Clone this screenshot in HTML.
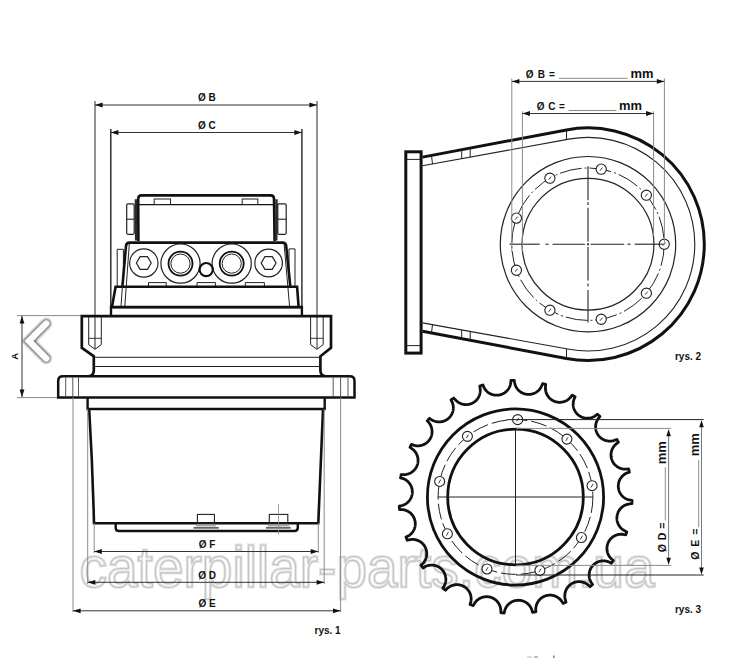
<!DOCTYPE html>
<html><head><meta charset="utf-8"><style>
html,body{margin:0;padding:0;background:#fff;}
svg{display:block;}
text{font-family:"Liberation Sans",sans-serif;}
</style></head><body>
<svg width="735" height="658" viewBox="0 0 735 658">
<rect width="735" height="658" fill="#fff"/>
<text x="79.5" y="587.4" font-size="58" font-weight="normal" fill="none" stroke="#e4e4e4" stroke-width="3" textLength="575" lengthAdjust="spacingAndGlyphs">caterpillar-parts.com.ua</text><text x="79.5" y="587.4" font-size="58" font-weight="normal" fill="none" stroke="#c4c4c4" stroke-width="1.1" textLength="575" lengthAdjust="spacingAndGlyphs">caterpillar-parts.com.ua</text>
<line x1="95.00" y1="101.00" x2="95.00" y2="349.00" stroke="#5a5a5a" stroke-width="1.3" />
<line x1="317.00" y1="101.00" x2="317.00" y2="349.00" stroke="#5a5a5a" stroke-width="1.3" />
<line x1="110.80" y1="129.00" x2="110.80" y2="307.00" stroke="#111" stroke-width="1.3" />
<line x1="301.90" y1="129.00" x2="301.90" y2="307.00" stroke="#111" stroke-width="1.3" />
<line x1="95.00" y1="105.00" x2="317.00" y2="105.00" stroke="#333" stroke-width="1" />
<path d="M95.00,105.00 L102.60,102.60 L102.60,107.40 Z" fill="#111"/>
<path d="M317.00,105.00 L309.40,107.40 L309.40,102.60 Z" fill="#111"/>
<line x1="110.80" y1="132.50" x2="301.90" y2="132.50" stroke="#333" stroke-width="1" />
<path d="M110.80,132.50 L118.40,130.10 L118.40,134.90 Z" fill="#111"/>
<path d="M301.90,132.50 L294.30,134.90 L294.30,130.10 Z" fill="#111"/>
<line x1="17.00" y1="315.60" x2="82.00" y2="315.60" stroke="#8a8a8a" stroke-width="1" />
<line x1="17.00" y1="397.60" x2="58.00" y2="397.60" stroke="#8a8a8a" stroke-width="1" />
<line x1="22.00" y1="316.00" x2="22.00" y2="397.00" stroke="#333" stroke-width="1" />
<path d="M22.00,316.00 L24.40,323.60 L19.60,323.60 Z" fill="#111"/>
<path d="M22.00,397.00 L19.60,389.40 L24.40,389.40 Z" fill="#111"/>
<path d="M138.4,241 L138.2,198.8 Q138.2,195.4 141.6,195.4 L270.7,195.4 Q274,195.4 274,198.8 L274.6,241" stroke="#111" stroke-width="2.6" fill="none" />
<line x1="135.90" y1="199.20" x2="136.10" y2="240.50" stroke="#2a2a2a" stroke-width="2.4" />
<line x1="276.50" y1="199.20" x2="276.30" y2="240.50" stroke="#2a2a2a" stroke-width="2.4" />
<line x1="139.00" y1="204.60" x2="273.50" y2="204.60" stroke="#111" stroke-width="1.3" />
<rect x="154.20" y="199.00" width="16.30" height="5.50" rx="0" stroke="#222" stroke-width="1" fill="none" />
<rect x="242.20" y="199.00" width="15.60" height="5.50" rx="0" stroke="#222" stroke-width="1" fill="none" />
<rect x="126.70" y="203.80" width="7.50" height="30.50" rx="1.2" stroke="#222" stroke-width="1.2" fill="none" />
<line x1="126.70" y1="219.20" x2="134.20" y2="219.20" stroke="#222" stroke-width="1.1" />
<rect x="277.80" y="203.80" width="8.40" height="30.50" rx="1.2" stroke="#222" stroke-width="1.2" fill="none" />
<line x1="277.80" y1="219.20" x2="286.20" y2="219.20" stroke="#222" stroke-width="1.1" />
<path d="M123.4,286 L123.4,249.3 L117.2,249.3 L117.2,286" stroke="#222" stroke-width="1" fill="none" />
<path d="M289,286 L289,248.9 L295,248.9 L295,286" stroke="#222" stroke-width="1" fill="none" />
<path d="M122.4,286.5 L126,246 Q126.3,242.6 129.5,242.6 L282.5,242.6 Q285.9,242.6 286.2,246 L290.3,286.5" fill="#fff" stroke="#111" stroke-width="2.6"/>
<line x1="129.30" y1="244.00" x2="124.80" y2="306.50" stroke="#222" stroke-width="1" />
<line x1="284.10" y1="244.00" x2="289.60" y2="306.50" stroke="#222" stroke-width="1" />
<circle cx="143.80" cy="263.00" r="14.20" stroke="#222" stroke-width="1.2" fill="none" />
<polygon points="151.20,263.00 147.50,269.41 140.10,269.41 136.40,263.00 140.10,256.59 147.50,256.59" fill="none" stroke="#222" stroke-width="1.2"/>
<circle cx="268.60" cy="263.00" r="13.80" stroke="#222" stroke-width="1.2" fill="none" />
<polygon points="276.00,263.00 272.30,269.41 264.90,269.41 261.20,263.00 264.90,256.59 272.30,256.59" fill="none" stroke="#222" stroke-width="1.2"/>
<circle cx="180.50" cy="263.60" r="19.60" stroke="#222" stroke-width="1.2" fill="none" />
<circle cx="180.50" cy="263.60" r="12.00" stroke="#111" stroke-width="1.8" fill="none" />
<circle cx="180.50" cy="263.60" r="9.60" stroke="#222" stroke-width="1.0" fill="none" />
<circle cx="231.70" cy="263.60" r="19.60" stroke="#222" stroke-width="1.2" fill="none" />
<circle cx="231.70" cy="263.60" r="12.00" stroke="#111" stroke-width="1.8" fill="none" />
<circle cx="231.70" cy="263.60" r="9.60" stroke="#222" stroke-width="1.0" fill="none" />
<circle cx="206.20" cy="269.60" r="6.60" stroke="#111" stroke-width="2.2" fill="none" />
<path d="M148.5,286 L148.5,282.6 L166.2,282.6 L166.2,286" stroke="#222" stroke-width="1" fill="none" />
<path d="M197,286 L197,282.6 L215.4,282.6 L215.4,286" stroke="#222" stroke-width="1" fill="none" />
<path d="M245.3,286 L245.3,282.6 L264.4,282.6 L264.4,286" stroke="#222" stroke-width="1" fill="none" />
<path d="M112,306.8 L115.6,286.8 L297.1,286.8 L298.6,306.8" stroke="#111" stroke-width="2.6" fill="none" />
<line x1="122.40" y1="286.50" x2="121.00" y2="306.50" stroke="#222" stroke-width="1" />
<path d="M111,315.6 L111,307 L301.9,307 L301.9,315.6" stroke="#111" stroke-width="2.4" fill="none" />
<line x1="111.00" y1="307.20" x2="301.90" y2="307.20" stroke="#111" stroke-width="2.6" />
<path d="M88.5,376.3 Q93.8,376 93.8,370.5 L93.8,356.3 L81.8,347.8 L81.8,316.2 L331,316.2 L331,347.8 L320.4,356.3 L320.4,370.5 Q320.4,376 325.7,376.3" fill="none" stroke="#111" stroke-width="2.7" stroke-linejoin="miter"/>
<line x1="94.00" y1="357.30" x2="320.40" y2="357.30" stroke="#222" stroke-width="1" />
<line x1="94.00" y1="366.50" x2="320.40" y2="366.50" stroke="#222" stroke-width="1" />
<path d="M88.7,317 L88.7,344.7 L95,349.3 L101.3,344.7 L101.3,317" stroke="#222" stroke-width="1" fill="none" />
<line x1="88.70" y1="338.30" x2="101.30" y2="338.30" stroke="#222" stroke-width="0.9" />
<path d="M310.59999999999997,317 L310.59999999999997,344.7 L316.9,349.3 L323.2,344.7 L323.2,317" stroke="#222" stroke-width="1" fill="none" />
<line x1="310.60" y1="338.30" x2="323.20" y2="338.30" stroke="#222" stroke-width="0.9" />
<path d="M58.2,397.5 L58.2,381 Q58.2,376.3 63,376.3 L349.7,376.3 Q354.5,376.3 354.5,381 L354.5,397.5 Z" fill="#fff" stroke="#111" stroke-width="2.5"/>
<line x1="65.70" y1="377.50" x2="65.70" y2="396.50" stroke="#444" stroke-width="0.9" />
<line x1="72.80" y1="377.50" x2="72.80" y2="396.50" stroke="#444" stroke-width="0.9" />
<line x1="78.50" y1="377.50" x2="78.50" y2="396.50" stroke="#444" stroke-width="0.9" />
<line x1="333.20" y1="377.50" x2="333.20" y2="396.50" stroke="#444" stroke-width="0.9" />
<line x1="340.60" y1="377.50" x2="340.60" y2="396.50" stroke="#444" stroke-width="0.9" />
<line x1="348.00" y1="377.50" x2="348.00" y2="396.50" stroke="#444" stroke-width="0.9" />
<path d="M87.6,397.5 L87.6,409 L324.7,409 L324.7,397.5" stroke="#111" stroke-width="2.4" fill="none" />
<path d="M89.2,409.5 Q92.6,466 94,523.3 L318.3,523.3 L323,409.5" stroke="#111" stroke-width="2.6" fill="none" />
<path d="M115.7,523.6 L115.7,528 Q115.7,531 119,531 L294.5,531 Q297.8,531 297.8,527.5 L297.8,523.6" stroke="#111" stroke-width="2.4" fill="none" />
<rect x="197.40" y="514.40" width="17.00" height="8.90" rx="0" stroke="#222" stroke-width="1.1" fill="none" />
<path d="M196.4,524.7 L215.4,524.7 L216.4,526.6 L195.4,526.6 Z" fill="#aaa"/>
<line x1="193.50" y1="527.90" x2="218.80" y2="527.90" stroke="#222" stroke-width="1.2" />
<rect x="269.30" y="514.40" width="18.50" height="8.90" rx="0" stroke="#222" stroke-width="1.1" fill="none" />
<path d="M268.3,524.7 L288.8,524.7 L289.8,526.6 L267.3,526.6 Z" fill="#aaa"/>
<line x1="266.00" y1="527.90" x2="290.70" y2="527.90" stroke="#222" stroke-width="1.2" />
<line x1="278.50" y1="504.00" x2="278.50" y2="534.70" stroke="#8a8a8a" stroke-width="0.8" />
<line x1="73.00" y1="397.50" x2="73.00" y2="612.00" stroke="#8a8a8a" stroke-width="1" />
<line x1="340.60" y1="397.50" x2="340.60" y2="612.00" stroke="#8a8a8a" stroke-width="1" />
<line x1="87.70" y1="409.00" x2="87.70" y2="584.00" stroke="#8a8a8a" stroke-width="1" />
<line x1="324.20" y1="409.00" x2="324.20" y2="584.00" stroke="#8a8a8a" stroke-width="1" />
<line x1="94.20" y1="523.00" x2="94.20" y2="553.00" stroke="#8a8a8a" stroke-width="1" />
<line x1="318.30" y1="523.00" x2="318.30" y2="553.00" stroke="#8a8a8a" stroke-width="1" />
<line x1="94.20" y1="551.50" x2="318.30" y2="551.50" stroke="#333" stroke-width="1" />
<path d="M94.20,551.50 L101.80,549.10 L101.80,553.90 Z" fill="#111"/>
<path d="M318.30,551.50 L310.70,553.90 L310.70,549.10 Z" fill="#111"/>
<line x1="87.70" y1="582.30" x2="324.20" y2="582.30" stroke="#333" stroke-width="1" />
<path d="M87.70,582.30 L95.30,579.90 L95.30,584.70 Z" fill="#111"/>
<path d="M324.20,582.30 L316.60,584.70 L316.60,579.90 Z" fill="#111"/>
<line x1="73.00" y1="610.80" x2="340.60" y2="610.80" stroke="#333" stroke-width="1" />
<path d="M73.00,610.80 L80.60,608.40 L80.60,613.20 Z" fill="#111"/>
<path d="M340.60,610.80 L333.00,613.20 L333.00,608.40 Z" fill="#111"/>
<path d="M422.5,157.1 L566.42,129.92 A116.3,116.3 0 1 1 566.42,358.48 L422.5,331.3" fill="none" stroke="#111" stroke-width="3.0"/>
<path d="M422.5,165.8 L568.85,139.13 A106.8,106.8 0 1 1 569.06,349.31 L422.5,322.9" fill="none" stroke="#222" stroke-width="1.1"/>
<line x1="461.70" y1="149.70" x2="461.70" y2="158.66" stroke="#222" stroke-width="1" />
<line x1="470.20" y1="148.09" x2="470.20" y2="157.11" stroke="#222" stroke-width="1" />
<line x1="431.50" y1="155.40" x2="432.50" y2="164.16" stroke="#222" stroke-width="1" />
<line x1="566.50" y1="129.90" x2="566.50" y2="139.56" stroke="#222" stroke-width="1" />
<line x1="461.70" y1="338.70" x2="461.70" y2="329.96" stroke="#222" stroke-width="1" />
<line x1="470.20" y1="340.31" x2="470.20" y2="331.49" stroke="#222" stroke-width="1" />
<line x1="431.50" y1="333.00" x2="432.50" y2="324.52" stroke="#222" stroke-width="1" />
<line x1="566.50" y1="358.50" x2="566.50" y2="348.85" stroke="#222" stroke-width="1" />
<rect x="405.80" y="151.80" width="15.30" height="201.30" rx="0" stroke="#111" stroke-width="3.0" fill="#fff" />
<line x1="406.50" y1="159.40" x2="420.50" y2="159.40" stroke="#222" stroke-width="1" />
<line x1="406.50" y1="345.60" x2="420.50" y2="345.60" stroke="#222" stroke-width="1" />
<circle cx="588.00" cy="244.20" r="87.70" stroke="#222" stroke-width="1.2" fill="none" />
<circle cx="588.00" cy="244.20" r="65.90" stroke="#222" stroke-width="1.2" fill="none" />
<circle cx="588.00" cy="244.20" r="76.20" stroke="#222" stroke-width="1.0" fill="none" stroke-dasharray="22 3 2 3"/>
<circle cx="664.20" cy="244.20" r="5.10" stroke="#222" stroke-width="1.1" fill="#fff" />
<line x1="663.00" y1="245.70" x2="665.40" y2="242.70" stroke="#222" stroke-width="0.9" />
<circle cx="646.37" cy="195.22" r="5.10" stroke="#222" stroke-width="1.1" fill="#fff" />
<line x1="645.17" y1="196.72" x2="647.57" y2="193.72" stroke="#222" stroke-width="0.9" />
<circle cx="601.23" cy="169.16" r="5.10" stroke="#222" stroke-width="1.1" fill="#fff" />
<line x1="600.03" y1="170.66" x2="602.43" y2="167.66" stroke="#222" stroke-width="0.9" />
<circle cx="549.90" cy="178.21" r="5.10" stroke="#222" stroke-width="1.1" fill="#fff" />
<line x1="548.70" y1="179.71" x2="551.10" y2="176.71" stroke="#222" stroke-width="0.9" />
<circle cx="516.40" cy="218.14" r="5.10" stroke="#222" stroke-width="1.1" fill="#fff" />
<line x1="515.20" y1="219.64" x2="517.60" y2="216.64" stroke="#222" stroke-width="0.9" />
<circle cx="516.40" cy="270.26" r="5.10" stroke="#222" stroke-width="1.1" fill="#fff" />
<line x1="515.20" y1="271.76" x2="517.60" y2="268.76" stroke="#222" stroke-width="0.9" />
<circle cx="549.90" cy="310.19" r="5.10" stroke="#222" stroke-width="1.1" fill="#fff" />
<line x1="548.70" y1="311.69" x2="551.10" y2="308.69" stroke="#222" stroke-width="0.9" />
<circle cx="601.23" cy="319.24" r="5.10" stroke="#222" stroke-width="1.1" fill="#fff" />
<line x1="600.03" y1="320.74" x2="602.43" y2="317.74" stroke="#222" stroke-width="0.9" />
<circle cx="646.37" cy="293.18" r="5.10" stroke="#222" stroke-width="1.1" fill="#fff" />
<line x1="645.17" y1="294.68" x2="647.57" y2="291.68" stroke="#222" stroke-width="0.9" />
<line x1="509.60" y1="244.20" x2="539.70" y2="244.20" stroke="#222" stroke-width="1.1" />
<line x1="545.50" y1="244.20" x2="548.50" y2="244.20" stroke="#222" stroke-width="1.1" />
<line x1="552.50" y1="244.20" x2="584.90" y2="244.20" stroke="#222" stroke-width="1.1" />
<line x1="587.00" y1="244.20" x2="589.00" y2="244.20" stroke="#222" stroke-width="1.1" />
<line x1="590.60" y1="244.20" x2="624.20" y2="244.20" stroke="#222" stroke-width="1.1" />
<line x1="627.50" y1="244.20" x2="630.50" y2="244.20" stroke="#222" stroke-width="1.1" />
<line x1="634.60" y1="244.20" x2="663.50" y2="244.20" stroke="#222" stroke-width="1.1" />
<line x1="588.00" y1="166.30" x2="588.00" y2="200.30" stroke="#222" stroke-width="1.1" />
<line x1="588.00" y1="202.00" x2="588.00" y2="205.00" stroke="#222" stroke-width="1.1" />
<line x1="588.00" y1="207.80" x2="588.00" y2="241.50" stroke="#222" stroke-width="1.1" />
<line x1="588.00" y1="243.00" x2="588.00" y2="245.50" stroke="#222" stroke-width="1.1" />
<line x1="588.00" y1="247.00" x2="588.00" y2="280.50" stroke="#222" stroke-width="1.1" />
<line x1="588.00" y1="283.50" x2="588.00" y2="286.50" stroke="#222" stroke-width="1.1" />
<line x1="588.00" y1="290.10" x2="588.00" y2="322.60" stroke="#222" stroke-width="1.1" />
<line x1="511.80" y1="78.50" x2="511.80" y2="252.00" stroke="#8a8a8a" stroke-width="1" />
<line x1="664.40" y1="78.50" x2="664.40" y2="244.00" stroke="#8a8a8a" stroke-width="1" />
<line x1="522.40" y1="111.30" x2="522.40" y2="252.00" stroke="#8a8a8a" stroke-width="1" />
<line x1="653.60" y1="111.30" x2="653.60" y2="236.00" stroke="#8a8a8a" stroke-width="1" />
<line x1="511.80" y1="81.40" x2="664.40" y2="81.40" stroke="#333" stroke-width="1" />
<path d="M511.80,81.40 L519.40,79.00 L519.40,83.80 Z" fill="#111"/>
<path d="M664.40,81.40 L656.80,83.80 L656.80,79.00 Z" fill="#111"/>
<line x1="522.40" y1="113.50" x2="653.60" y2="113.50" stroke="#333" stroke-width="1" />
<path d="M522.40,113.50 L530.00,111.10 L530.00,115.90 Z" fill="#111"/>
<path d="M653.60,113.50 L646.00,115.90 L646.00,111.10 Z" fill="#111"/>
<line x1="559.20" y1="78.30" x2="627.70" y2="78.30" stroke="#8a8a8a" stroke-width="1" />
<line x1="568.60" y1="110.50" x2="616.30" y2="110.50" stroke="#8a8a8a" stroke-width="1" />
<path d="M623.40,497.00 L623.75,497.28 L624.13,497.57 L624.53,497.86 L624.98,498.15 L625.47,498.44 L626.02,498.74 L626.63,499.04 L627.35,499.34 L628.22,499.66 L629.38,499.98 L632.05,500.36 L632.04,500.66 L632.03,500.97 L632.02,501.27 L632.01,501.58 L632.00,501.88 L631.98,502.19 L631.97,502.49 L631.96,502.80 L631.94,503.10 L631.92,503.41 L631.91,503.71 L629.74,503.89 L628.38,504.10 L627.41,504.33 L626.62,504.58 L625.95,504.82 L625.36,505.07 L624.83,505.32 L624.35,505.57 L623.90,505.82 L623.49,506.07 L623.11,506.32 L622.75,506.57 L622.42,506.82 L622.10,507.08 L621.80,507.33 L621.51,507.58 L621.25,507.83 L620.99,508.09 L620.75,508.34 L620.51,508.59 L620.29,508.85 L620.08,509.10 L619.88,509.35 L619.69,509.61 L619.50,509.86 L619.33,510.12 L619.16,510.37 L619.00,510.63 L618.85,510.88 L618.70,511.14 L618.56,511.39 L618.43,511.65 L618.30,511.91 L618.18,512.16 L618.07,512.42 L617.96,512.68 L617.85,512.94 L617.76,513.20 L617.66,513.46 L617.58,513.72 L617.50,513.98 L617.42,514.24 L617.35,514.50 L617.29,514.76 L617.22,515.03 L617.17,515.29 L617.12,515.56 L617.07,515.83 L617.03,516.09 L617.00,516.36 L616.97,516.63 L616.94,516.90 L616.92,517.17 L616.91,517.45 L616.90,517.72 L616.90,518.00 L616.90,518.28 L616.91,518.55 L616.92,518.83 L616.94,519.12 L616.96,519.40 L616.99,519.69 L617.03,519.97 L617.07,520.26 L617.12,520.55 L617.17,520.85 L617.24,521.14 L617.30,521.44 L617.38,521.74 L617.47,522.05 L617.56,522.35 L617.66,522.66 L617.77,522.97 L617.89,523.29 L618.03,523.61 L618.17,523.93 L618.32,524.26 L618.49,524.60 L618.67,524.93 L618.87,525.28 L619.08,525.63 L619.31,525.98 L619.56,526.35 L619.84,526.72 L620.15,527.11 L620.48,527.50 L620.86,527.91 L621.29,528.34 L621.78,528.78 L622.35,529.26 L623.04,529.78 L623.95,530.36 L625.46,531.14 L626.76,531.87 L626.67,532.16 L626.58,532.45 L626.49,532.74 L626.39,533.03 L626.30,533.32 L626.20,533.61 L626.11,533.90 L626.01,534.19 L625.91,534.48 L625.81,534.77 L624.41,534.61 L622.69,534.33 L621.60,534.26 L620.73,534.26 L619.98,534.31 L619.32,534.38 L618.73,534.47 L618.18,534.58 L617.67,534.69 L617.20,534.82 L616.75,534.96 L616.33,535.10 L615.93,535.25 L615.55,535.41 L615.19,535.57 L614.85,535.73 L614.51,535.90 L614.19,536.08 L613.89,536.25 L613.59,536.43 L613.31,536.62 L613.03,536.80 L612.77,536.99 L612.51,537.18 L612.26,537.38 L612.02,537.57 L611.79,537.77 L611.56,537.97 L611.34,538.18 L611.13,538.38 L610.93,538.59 L610.73,538.80 L610.53,539.01 L610.35,539.23 L610.16,539.44 L609.99,539.66 L609.82,539.88 L609.65,540.11 L609.49,540.33 L609.34,540.56 L609.19,540.79 L609.04,541.02 L608.90,541.25 L608.76,541.48 L608.63,541.72 L608.51,541.96 L608.38,542.20 L608.27,542.45 L608.16,542.69 L608.05,542.94 L607.94,543.19 L607.85,543.45 L607.75,543.70 L607.66,543.96 L607.58,544.22 L607.50,544.48 L607.42,544.75 L607.35,545.02 L607.29,545.29 L607.23,545.57 L607.17,545.85 L607.12,546.13 L607.08,546.41 L607.04,546.70 L607.00,546.99 L606.98,547.29 L606.95,547.59 L606.94,547.89 L606.93,548.20 L606.93,548.52 L606.93,548.84 L606.94,549.16 L606.96,549.49 L606.99,549.82 L607.03,550.16 L607.08,550.51 L607.13,550.87 L607.20,551.23 L607.28,551.60 L607.37,551.98 L607.47,552.37 L607.60,552.78 L607.73,553.19 L607.89,553.62 L608.07,554.06 L608.28,554.53 L608.52,555.01 L608.80,555.53 L609.13,556.08 L609.52,556.67 L610.01,557.33 L610.65,558.08 L611.60,559.05 L613.29,560.50 L613.12,560.76 L612.96,561.02 L612.79,561.27 L612.62,561.53 L612.45,561.78 L612.28,562.03 L612.11,562.29 L611.94,562.54 L611.77,562.79 L611.59,563.04 L611.42,563.29 L609.08,562.04 L607.94,561.61 L607.05,561.34 L606.29,561.16 L605.61,561.04 L604.99,560.95 L604.42,560.90 L603.89,560.87 L603.39,560.86 L602.92,560.86 L602.47,560.88 L602.04,560.92 L601.62,560.96 L601.22,561.01 L600.84,561.08 L600.47,561.15 L600.11,561.23 L599.77,561.31 L599.43,561.40 L599.10,561.50 L598.79,561.60 L598.48,561.71 L598.17,561.82 L597.88,561.94 L597.59,562.07 L597.31,562.19 L597.04,562.32 L596.77,562.46 L596.51,562.60 L596.25,562.74 L596.00,562.89 L595.76,563.04 L595.52,563.20 L595.28,563.35 L595.05,563.52 L594.83,563.68 L594.61,563.85 L594.39,564.02 L594.18,564.20 L593.97,564.38 L593.77,564.56 L593.57,564.74 L593.37,564.93 L593.18,565.12 L592.99,565.32 L592.81,565.52 L592.63,565.72 L592.45,565.92 L592.28,566.13 L592.11,566.35 L591.95,566.56 L591.79,566.78 L591.63,567.00 L591.48,567.23 L591.33,567.46 L591.18,567.70 L591.04,567.94 L590.90,568.18 L590.77,568.43 L590.64,568.68 L590.51,568.93 L590.39,569.20 L590.27,569.46 L590.16,569.73 L590.05,570.01 L589.95,570.29 L589.85,570.58 L589.76,570.87 L589.67,571.17 L589.58,571.47 L589.51,571.79 L589.43,572.11 L589.37,572.43 L589.31,572.77 L589.26,573.11 L589.21,573.47 L589.18,573.83 L589.15,574.21 L589.13,574.59 L589.12,574.99 L589.13,575.41 L589.15,575.84 L589.18,576.29 L589.22,576.76 L589.29,577.25 L589.38,577.77 L589.50,578.33 L589.66,578.93 L589.86,579.58 L590.12,580.31 L590.48,581.16 L591.02,582.21 L592.61,584.46 L592.38,584.66 L592.15,584.87 L591.92,585.07 L591.69,585.27 L591.46,585.46 L591.23,585.66 L590.99,585.86 L590.76,586.06 L590.53,586.26 L590.29,586.45 L590.06,586.65 L588.50,585.24 L587.39,584.37 L586.56,583.81 L585.84,583.40 L585.20,583.07 L584.61,582.81 L584.07,582.59 L583.55,582.40 L583.07,582.25 L582.60,582.12 L582.16,582.01 L581.73,581.92 L581.31,581.85 L580.91,581.79 L580.52,581.74 L580.14,581.70 L579.77,581.68 L579.41,581.66 L579.06,581.66 L578.72,581.66 L578.38,581.67 L578.05,581.69 L577.73,581.72 L577.41,581.75 L577.10,581.79 L576.80,581.83 L576.49,581.88 L576.20,581.94 L575.91,582.00 L575.62,582.07 L575.34,582.14 L575.06,582.22 L574.79,582.30 L574.52,582.39 L574.25,582.48 L573.99,582.58 L573.73,582.68 L573.47,582.78 L573.22,582.89 L572.97,583.01 L572.72,583.13 L572.48,583.25 L572.24,583.38 L572.00,583.51 L571.77,583.64 L571.54,583.78 L571.31,583.93 L571.08,584.08 L570.86,584.23 L570.64,584.39 L570.42,584.55 L570.20,584.72 L569.99,584.89 L569.78,585.06 L569.58,585.24 L569.37,585.43 L569.17,585.62 L568.97,585.81 L568.77,586.01 L568.58,586.22 L568.39,586.43 L568.20,586.65 L568.02,586.87 L567.83,587.10 L567.65,587.33 L567.48,587.57 L567.30,587.82 L567.13,588.07 L566.96,588.34 L566.80,588.60 L566.64,588.88 L566.48,589.17 L566.33,589.46 L566.18,589.76 L566.04,590.08 L565.90,590.40 L565.76,590.74 L565.63,591.09 L565.51,591.45 L565.39,591.83 L565.28,592.22 L565.18,592.63 L565.08,593.07 L565.00,593.52 L564.93,594.01 L564.87,594.52 L564.83,595.07 L564.80,595.67 L564.81,596.33 L564.85,597.07 L564.94,597.93 L565.13,598.98 L565.56,600.55 L565.97,602.11 L565.70,602.24 L565.42,602.37 L565.15,602.50 L564.87,602.63 L564.59,602.76 L564.32,602.89 L564.04,603.02 L563.76,603.14 L563.48,603.27 L563.20,603.39 L562.43,602.41 L561.42,600.86 L560.72,600.01 L560.12,599.36 L559.57,598.85 L559.07,598.41 L558.59,598.03 L558.14,597.70 L557.71,597.41 L557.29,597.15 L556.89,596.92 L556.49,596.71 L556.11,596.52 L555.74,596.35 L555.37,596.19 L555.02,596.05 L554.67,595.92 L554.32,595.81 L553.98,595.70 L553.65,595.61 L553.32,595.52 L553.00,595.45 L552.68,595.38 L552.36,595.33 L552.05,595.28 L551.74,595.24 L551.44,595.20 L551.14,595.17 L550.84,595.15 L550.54,595.14 L550.25,595.13 L549.96,595.13 L549.67,595.13 L549.39,595.14 L549.11,595.15 L548.83,595.17 L548.55,595.20 L548.27,595.23 L548.00,595.27 L547.73,595.31 L547.46,595.35 L547.19,595.40 L546.92,595.46 L546.66,595.52 L546.40,595.59 L546.13,595.66 L545.87,595.73 L545.62,595.81 L545.36,595.90 L545.10,595.99 L544.85,596.09 L544.60,596.19 L544.35,596.29 L544.10,596.40 L543.85,596.52 L543.60,596.64 L543.36,596.77 L543.11,596.90 L542.87,597.04 L542.62,597.18 L542.38,597.33 L542.14,597.49 L541.90,597.65 L541.67,597.82 L541.43,597.99 L541.19,598.17 L540.96,598.36 L540.73,598.56 L540.49,598.76 L540.26,598.97 L540.03,599.19 L539.81,599.42 L539.58,599.66 L539.35,599.91 L539.13,600.17 L538.91,600.44 L538.68,600.72 L538.47,601.02 L538.25,601.33 L538.03,601.65 L537.82,602.00 L537.61,602.36 L537.40,602.74 L537.19,603.15 L536.99,603.59 L536.79,604.05 L536.60,604.56 L536.42,605.11 L536.24,605.72 L536.07,606.41 L535.93,607.21 L535.81,608.18 L535.74,609.51 L535.85,611.81 L535.55,611.86 L535.25,611.92 L534.95,611.97 L534.64,612.02 L534.34,612.07 L534.04,612.12 L533.74,612.16 L533.44,612.21 L533.14,612.26 L532.84,612.30 L532.53,612.35 L531.86,609.85 L531.40,608.70 L530.98,607.86 L530.59,607.17 L530.22,606.59 L529.86,606.08 L529.51,605.62 L529.17,605.21 L528.84,604.83 L528.51,604.49 L528.18,604.17 L527.87,603.88 L527.55,603.61 L527.24,603.35 L526.93,603.12 L526.63,602.89 L526.33,602.68 L526.03,602.49 L525.73,602.31 L525.44,602.13 L525.15,601.97 L524.85,601.82 L524.57,601.67 L524.28,601.54 L523.99,601.41 L523.71,601.29 L523.43,601.18 L523.14,601.08 L522.86,600.98 L522.58,600.89 L522.30,600.81 L522.03,600.74 L521.75,600.67 L521.47,600.60 L521.20,600.54 L520.92,600.49 L520.65,600.44 L520.38,600.40 L520.10,600.37 L519.83,600.34 L519.56,600.31 L519.29,600.29 L519.02,600.28 L518.75,600.27 L518.47,600.26 L518.20,600.27 L517.93,600.27 L517.66,600.28 L517.39,600.30 L517.12,600.32 L516.85,600.35 L516.58,600.38 L516.31,600.42 L516.04,600.46 L515.77,600.51 L515.50,600.56 L515.23,600.62 L514.96,600.69 L514.69,600.76 L514.41,600.83 L514.14,600.92 L513.87,601.01 L513.59,601.10 L513.32,601.20 L513.04,601.31 L512.77,601.43 L512.49,601.55 L512.21,601.68 L511.93,601.82 L511.65,601.97 L511.37,602.13 L511.09,602.29 L510.80,602.47 L510.52,602.65 L510.23,602.85 L509.94,603.06 L509.65,603.28 L509.36,603.51 L509.06,603.76 L508.77,604.03 L508.47,604.31 L508.16,604.62 L507.86,604.95 L507.55,605.30 L507.23,605.69 L506.91,606.11 L506.59,606.57 L506.26,607.09 L505.91,607.68 L505.56,608.37 L505.19,609.20 L504.79,610.29 L504.22,613.05 L503.92,613.02 L503.62,612.99 L503.31,612.96 L503.01,612.93 L502.70,612.90 L502.40,612.86 L502.10,612.83 L501.80,612.79 L501.49,612.76 L501.19,612.72 L500.89,612.68 L500.84,610.66 L500.72,609.23 L500.56,608.22 L500.38,607.41 L500.18,606.72 L499.97,606.10 L499.76,605.55 L499.54,605.05 L499.33,604.59 L499.10,604.16 L498.88,603.76 L498.65,603.38 L498.42,603.03 L498.19,602.69 L497.96,602.37 L497.73,602.07 L497.49,601.78 L497.26,601.51 L497.02,601.25 L496.79,601.00 L496.55,600.76 L496.31,600.53 L496.07,600.31 L495.83,600.10 L495.59,599.90 L495.35,599.71 L495.11,599.52 L494.86,599.34 L494.62,599.17 L494.38,599.01 L494.13,598.85 L493.88,598.70 L493.64,598.56 L493.39,598.42 L493.14,598.29 L492.89,598.16 L492.64,598.04 L492.39,597.92 L492.13,597.81 L491.88,597.71 L491.62,597.61 L491.37,597.52 L491.11,597.43 L490.85,597.34 L490.59,597.26 L490.33,597.19 L490.07,597.12 L489.81,597.06 L489.55,597.00 L489.28,596.95 L489.01,596.90 L488.74,596.85 L488.47,596.81 L488.20,596.78 L487.93,596.75 L487.66,596.73 L487.38,596.71 L487.10,596.70 L486.82,596.69 L486.54,596.69 L486.25,596.69 L485.97,596.70 L485.68,596.72 L485.39,596.74 L485.09,596.77 L484.80,596.80 L484.50,596.85 L484.19,596.89 L483.89,596.95 L483.58,597.01 L483.27,597.09 L482.95,597.17 L482.63,597.25 L482.31,597.35 L481.98,597.46 L481.65,597.58 L481.31,597.71 L480.97,597.85 L480.62,598.01 L480.27,598.18 L479.90,598.37 L479.53,598.57 L479.15,598.80 L478.76,599.05 L478.36,599.32 L477.94,599.63 L477.51,599.97 L477.06,600.37 L476.58,600.82 L476.07,601.35 L475.51,601.99 L474.87,602.83 L474.04,604.17 L473.14,605.64 L472.86,605.52 L472.58,605.41 L472.29,605.30 L472.01,605.19 L471.73,605.07 L471.44,604.96 L471.16,604.84 L470.88,604.72 L470.60,604.61 L470.32,604.49 L470.03,604.37 L470.93,601.50 L471.08,600.39 L471.14,599.51 L471.15,598.76 L471.13,598.09 L471.08,597.48 L471.01,596.92 L470.93,596.41 L470.84,595.92 L470.73,595.47 L470.62,595.03 L470.49,594.62 L470.37,594.23 L470.23,593.86 L470.09,593.50 L469.94,593.16 L469.79,592.83 L469.64,592.51 L469.48,592.20 L469.32,591.90 L469.15,591.61 L468.98,591.33 L468.81,591.06 L468.63,590.80 L468.45,590.55 L468.27,590.30 L468.08,590.06 L467.89,589.83 L467.70,589.60 L467.51,589.38 L467.31,589.17 L467.12,588.96 L466.92,588.76 L466.71,588.56 L466.51,588.37 L466.30,588.19 L466.09,588.01 L465.87,587.83 L465.66,587.66 L465.44,587.49 L465.22,587.33 L465.00,587.18 L464.77,587.02 L464.55,586.88 L464.32,586.73 L464.08,586.60 L463.85,586.46 L463.61,586.33 L463.37,586.21 L463.13,586.09 L462.88,585.97 L462.63,585.86 L462.38,585.75 L462.13,585.65 L461.87,585.55 L461.61,585.46 L461.35,585.37 L461.08,585.29 L460.81,585.21 L460.54,585.13 L460.26,585.06 L459.98,585.00 L459.69,584.94 L459.40,584.88 L459.11,584.84 L458.81,584.79 L458.51,584.76 L458.20,584.73 L457.89,584.70 L457.57,584.68 L457.25,584.67 L456.92,584.67 L456.59,584.67 L456.24,584.69 L455.89,584.71 L455.54,584.74 L455.17,584.78 L454.80,584.83 L454.41,584.90 L454.01,584.97 L453.61,585.07 L453.18,585.17 L452.75,585.30 L452.29,585.45 L451.82,585.62 L451.32,585.83 L450.79,586.07 L450.22,586.35 L449.61,586.70 L448.93,587.13 L448.14,587.70 L447.14,588.54 L445.49,590.24 L445.25,590.06 L445.00,589.88 L444.76,589.69 L444.52,589.50 L444.28,589.32 L444.04,589.13 L443.79,588.94 L443.55,588.76 L443.31,588.57 L443.07,588.38 L442.84,588.19 L444.17,586.04 L444.70,584.90 L445.04,584.02 L445.27,583.26 L445.45,582.58 L445.58,581.97 L445.68,581.40 L445.74,580.87 L445.79,580.37 L445.82,579.90 L445.83,579.44 L445.83,579.01 L445.81,578.59 L445.79,578.19 L445.75,577.80 L445.71,577.43 L445.66,577.06 L445.59,576.71 L445.53,576.37 L445.45,576.04 L445.37,575.71 L445.28,575.39 L445.19,575.08 L445.10,574.78 L444.99,574.49 L444.89,574.20 L444.77,573.92 L444.66,573.64 L444.54,573.37 L444.41,573.10 L444.28,572.84 L444.15,572.59 L444.01,572.34 L443.87,572.09 L443.72,571.85 L443.57,571.61 L443.42,571.38 L443.26,571.15 L443.10,570.93 L442.94,570.71 L442.77,570.49 L442.60,570.28 L442.43,570.07 L442.25,569.87 L442.07,569.67 L441.88,569.47 L441.69,569.28 L441.50,569.09 L441.31,568.90 L441.11,568.72 L440.90,568.54 L440.69,568.36 L440.48,568.19 L440.27,568.02 L440.05,567.86 L439.82,567.69 L439.59,567.54 L439.36,567.38 L439.12,567.23 L438.88,567.08 L438.64,566.94 L438.38,566.80 L438.13,566.67 L437.87,566.54 L437.60,566.41 L437.33,566.28 L437.05,566.17 L436.76,566.05 L436.47,565.94 L436.17,565.84 L435.87,565.74 L435.55,565.65 L435.23,565.56 L434.90,565.47 L434.56,565.40 L434.21,565.33 L433.85,565.27 L433.48,565.21 L433.10,565.17 L432.70,565.13 L432.29,565.11 L431.86,565.09 L431.41,565.09 L430.94,565.11 L430.45,565.14 L429.92,565.19 L429.36,565.27 L428.76,565.38 L428.10,565.53 L427.36,565.74 L426.51,566.03 L425.44,566.48 L423.00,567.98 L422.81,567.74 L422.62,567.50 L422.44,567.25 L422.26,567.01 L422.07,566.76 L421.89,566.52 L421.71,566.27 L421.53,566.03 L421.35,565.78 L421.17,565.54 L420.99,565.29 L422.36,563.93 L423.36,562.84 L423.99,562.03 L424.47,561.34 L424.84,560.72 L425.15,560.14 L425.41,559.61 L425.63,559.11 L425.82,558.63 L425.99,558.18 L426.13,557.74 L426.25,557.31 L426.35,556.90 L426.44,556.51 L426.52,556.12 L426.58,555.74 L426.63,555.38 L426.67,555.02 L426.70,554.67 L426.72,554.32 L426.73,553.99 L426.74,553.66 L426.74,553.33 L426.73,553.01 L426.71,552.70 L426.69,552.39 L426.66,552.09 L426.62,551.79 L426.58,551.49 L426.53,551.20 L426.48,550.91 L426.42,550.63 L426.36,550.35 L426.29,550.07 L426.22,549.80 L426.14,549.53 L426.06,549.27 L425.97,549.00 L425.88,548.74 L425.78,548.49 L425.68,548.23 L425.57,547.98 L425.46,547.73 L425.35,547.49 L425.23,547.24 L425.11,547.00 L424.98,546.77 L424.84,546.53 L424.71,546.30 L424.57,546.07 L424.42,545.84 L424.27,545.61 L424.11,545.39 L423.95,545.17 L423.79,544.95 L423.62,544.73 L423.44,544.52 L423.26,544.30 L423.07,544.09 L422.88,543.89 L422.69,543.68 L422.48,543.48 L422.27,543.28 L422.06,543.08 L421.84,542.88 L421.61,542.69 L421.38,542.50 L421.14,542.31 L420.89,542.13 L420.63,541.95 L420.37,541.77 L420.09,541.59 L419.81,541.42 L419.52,541.25 L419.22,541.08 L418.90,540.92 L418.58,540.76 L418.24,540.61 L417.89,540.46 L417.52,540.32 L417.14,540.18 L416.73,540.05 L416.31,539.92 L415.86,539.81 L415.39,539.70 L414.88,539.61 L414.34,539.52 L413.75,539.46 L413.09,539.42 L412.36,539.41 L411.51,539.44 L410.48,539.54 L408.97,539.82 L407.20,540.21 L407.09,539.92 L406.98,539.64 L406.86,539.36 L406.75,539.07 L406.64,538.79 L406.54,538.50 L406.43,538.22 L406.32,537.93 L406.21,537.64 L406.11,537.36 L406.00,537.07 L408.66,535.78 L409.58,535.13 L410.28,534.57 L410.84,534.06 L411.32,533.59 L411.73,533.14 L412.09,532.71 L412.42,532.29 L412.71,531.89 L412.97,531.51 L413.21,531.13 L413.43,530.76 L413.62,530.40 L413.81,530.04 L413.97,529.69 L414.12,529.35 L414.26,529.02 L414.39,528.69 L414.51,528.36 L414.62,528.04 L414.71,527.72 L414.80,527.40 L414.88,527.09 L414.95,526.78 L415.01,526.48 L415.07,526.18 L415.12,525.88 L415.16,525.58 L415.20,525.29 L415.23,525.00 L415.25,524.71 L415.27,524.42 L415.28,524.14 L415.28,523.85 L415.28,523.57 L415.28,523.29 L415.26,523.02 L415.25,522.74 L415.23,522.47 L415.20,522.19 L415.17,521.92 L415.13,521.65 L415.09,521.39 L415.04,521.12 L414.99,520.85 L414.93,520.59 L414.87,520.33 L414.80,520.06 L414.73,519.80 L414.65,519.54 L414.57,519.28 L414.48,519.03 L414.39,518.77 L414.29,518.51 L414.18,518.26 L414.07,518.00 L413.96,517.75 L413.84,517.50 L413.71,517.25 L413.58,517.00 L413.44,516.75 L413.30,516.50 L413.15,516.25 L412.99,516.00 L412.83,515.75 L412.65,515.50 L412.47,515.26 L412.29,515.01 L412.09,514.77 L411.89,514.52 L411.68,514.28 L411.46,514.04 L411.22,513.80 L410.98,513.55 L410.73,513.31 L410.46,513.07 L410.18,512.83 L409.89,512.60 L409.58,512.36 L409.25,512.12 L408.91,511.89 L408.54,511.65 L408.15,511.42 L407.73,511.19 L407.28,510.96 L406.80,510.73 L406.26,510.51 L405.67,510.29 L405.00,510.08 L404.23,509.87 L403.28,509.69 L402.01,509.53 L399.57,509.49 L399.54,509.19 L399.51,508.88 L399.48,508.58 L399.45,508.28 L399.42,507.97 L399.39,507.67 L399.36,507.37 L399.33,507.06 L399.31,506.76 L399.28,506.45 L399.26,506.15 L401.67,505.66 L402.89,505.27 L403.77,504.91 L404.50,504.57 L405.11,504.24 L405.65,503.91 L406.14,503.59 L406.57,503.28 L406.97,502.97 L407.34,502.67 L407.68,502.37 L408.00,502.07 L408.29,501.77 L408.57,501.48 L408.83,501.19 L409.07,500.90 L409.30,500.62 L409.52,500.33 L409.72,500.05 L409.92,499.76 L410.10,499.48 L410.27,499.20 L410.44,498.93 L410.59,498.65 L410.74,498.37 L410.88,498.10 L411.01,497.82 L411.13,497.55 L411.25,497.27 L411.35,497.00 L411.46,496.73 L411.55,496.46 L411.64,496.18 L411.73,495.91 L411.80,495.64 L411.87,495.37 L411.94,495.10 L412.00,494.83 L412.06,494.56 L412.10,494.29 L412.15,494.02 L412.19,493.75 L412.22,493.48 L412.25,493.21 L412.27,492.94 L412.29,492.67 L412.30,492.40 L412.31,492.13 L412.31,491.86 L412.31,491.59 L412.30,491.32 L412.29,491.05 L412.27,490.78 L412.25,490.50 L412.22,490.23 L412.18,489.96 L412.14,489.68 L412.10,489.41 L412.04,489.13 L411.99,488.85 L411.92,488.58 L411.85,488.30 L411.78,488.02 L411.70,487.74 L411.61,487.45 L411.51,487.17 L411.41,486.89 L411.30,486.60 L411.18,486.31 L411.05,486.02 L410.91,485.73 L410.77,485.44 L410.61,485.14 L410.45,484.85 L410.27,484.55 L410.09,484.24 L409.89,483.94 L409.67,483.63 L409.45,483.32 L409.20,483.01 L408.94,482.69 L408.66,482.36 L408.35,482.04 L408.02,481.70 L407.66,481.36 L407.27,481.02 L406.83,480.66 L406.34,480.30 L405.78,479.92 L405.13,479.52 L404.34,479.10 L403.31,478.63 L400.48,477.86 L400.53,477.55 L400.58,477.25 L400.64,476.95 L400.69,476.65 L400.74,476.35 L400.80,476.05 L400.85,475.75 L400.91,475.45 L400.97,475.15 L401.02,474.85 L401.08,474.55 L402.93,474.61 L404.44,474.61 L405.48,474.52 L406.31,474.39 L407.03,474.24 L407.66,474.08 L408.23,473.90 L408.75,473.72 L409.23,473.54 L409.67,473.35 L410.09,473.15 L410.48,472.95 L410.86,472.74 L411.21,472.54 L411.54,472.33 L411.86,472.12 L412.16,471.90 L412.45,471.69 L412.73,471.47 L413.00,471.25 L413.25,471.03 L413.50,470.81 L413.73,470.59 L413.96,470.36 L414.18,470.14 L414.39,469.91 L414.59,469.68 L414.79,469.45 L414.97,469.22 L415.16,468.98 L415.33,468.75 L415.50,468.51 L415.66,468.28 L415.81,468.04 L415.96,467.80 L416.11,467.56 L416.25,467.32 L416.38,467.07 L416.51,466.83 L416.63,466.58 L416.74,466.34 L416.86,466.09 L416.96,465.84 L417.06,465.59 L417.16,465.33 L417.25,465.08 L417.34,464.82 L417.42,464.56 L417.50,464.30 L417.57,464.04 L417.64,463.78 L417.70,463.52 L417.76,463.25 L417.81,462.98 L417.86,462.71 L417.90,462.44 L417.94,462.16 L417.97,461.89 L418.00,461.61 L418.02,461.33 L418.03,461.04 L418.04,460.76 L418.05,460.47 L418.05,460.18 L418.04,459.88 L418.02,459.58 L418.00,459.28 L417.98,458.98 L417.94,458.67 L417.90,458.36 L417.85,458.04 L417.79,457.72 L417.73,457.40 L417.65,457.07 L417.57,456.74 L417.47,456.40 L417.37,456.05 L417.25,455.70 L417.12,455.34 L416.97,454.97 L416.81,454.60 L416.64,454.22 L416.44,453.82 L416.22,453.42 L415.97,453.00 L415.70,452.57 L415.39,452.11 L415.03,451.64 L414.62,451.13 L414.13,450.59 L413.54,450.00 L412.77,449.31 L411.57,448.43 L410.00,447.35 L410.13,447.08 L410.26,446.80 L410.39,446.53 L410.52,446.25 L410.66,445.98 L410.79,445.70 L410.92,445.43 L411.06,445.16 L411.20,444.88 L411.33,444.61 L411.47,444.34 L414.17,445.37 L415.29,445.61 L416.18,445.74 L416.95,445.81 L417.62,445.83 L418.24,445.83 L418.80,445.80 L419.32,445.75 L419.82,445.69 L420.28,445.62 L420.72,445.54 L421.14,445.45 L421.54,445.34 L421.92,445.24 L422.29,445.12 L422.65,445.00 L422.99,444.87 L423.32,444.74 L423.64,444.60 L423.95,444.46 L424.24,444.31 L424.54,444.16 L424.82,444.01 L425.09,443.85 L425.36,443.69 L425.62,443.53 L425.87,443.36 L426.11,443.19 L426.35,443.01 L426.59,442.83 L426.81,442.65 L427.03,442.47 L427.25,442.28 L427.46,442.09 L427.67,441.90 L427.87,441.71 L428.06,441.51 L428.25,441.31 L428.44,441.11 L428.62,440.90 L428.79,440.69 L428.97,440.48 L429.13,440.27 L429.30,440.05 L429.45,439.83 L429.61,439.61 L429.76,439.38 L429.90,439.16 L430.05,438.93 L430.18,438.69 L430.32,438.45 L430.44,438.21 L430.57,437.97 L430.69,437.72 L430.80,437.48 L430.92,437.22 L431.02,436.97 L431.13,436.71 L431.22,436.44 L431.32,436.17 L431.41,435.90 L431.49,435.63 L431.57,435.35 L431.64,435.06 L431.71,434.77 L431.78,434.48 L431.83,434.18 L431.89,433.88 L431.93,433.57 L431.97,433.25 L432.00,432.93 L432.03,432.60 L432.05,432.27 L432.06,431.93 L432.06,431.58 L432.06,431.22 L432.04,430.85 L432.02,430.48 L431.98,430.09 L431.93,429.69 L431.87,429.28 L431.79,428.85 L431.70,428.41 L431.58,427.94 L431.44,427.46 L431.28,426.95 L431.08,426.41 L430.83,425.83 L430.53,425.20 L430.16,424.50 L429.66,423.69 L428.92,422.66 L427.23,420.81 L427.43,420.58 L427.63,420.35 L427.84,420.12 L428.04,419.89 L428.24,419.66 L428.44,419.43 L428.65,419.21 L428.85,418.98 L429.05,418.75 L429.26,418.53 L429.46,418.30 L431.42,419.68 L432.55,420.32 L433.43,420.73 L434.17,421.03 L434.84,421.26 L435.45,421.43 L436.01,421.57 L436.54,421.68 L437.04,421.76 L437.51,421.82 L437.97,421.86 L438.40,421.89 L438.82,421.91 L439.22,421.91 L439.61,421.90 L439.99,421.88 L440.36,421.86 L440.71,421.82 L441.06,421.78 L441.40,421.73 L441.73,421.67 L442.05,421.60 L442.37,421.53 L442.68,421.46 L442.98,421.38 L443.28,421.29 L443.57,421.20 L443.85,421.10 L444.13,421.00 L444.40,420.89 L444.67,420.78 L444.94,420.67 L445.20,420.55 L445.45,420.42 L445.70,420.29 L445.95,420.16 L446.19,420.03 L446.43,419.89 L446.66,419.74 L446.90,419.59 L447.12,419.44 L447.35,419.29 L447.57,419.13 L447.78,418.96 L448.00,418.80 L448.21,418.62 L448.41,418.45 L448.61,418.27 L448.81,418.09 L449.01,417.90 L449.20,417.71 L449.39,417.52 L449.58,417.32 L449.76,417.11 L449.94,416.91 L450.12,416.69 L450.29,416.48 L450.46,416.26 L450.63,416.03 L450.79,415.80 L450.95,415.56 L451.11,415.32 L451.26,415.08 L451.41,414.82 L451.56,414.57 L451.70,414.30 L451.84,414.03 L451.97,413.76 L452.10,413.47 L452.23,413.18 L452.35,412.89 L452.46,412.58 L452.57,412.27 L452.68,411.94 L452.78,411.61 L452.87,411.27 L452.96,410.92 L453.04,410.55 L453.11,410.17 L453.17,409.78 L453.23,409.37 L453.27,408.95 L453.30,408.50 L453.32,408.03 L453.32,407.54 L453.31,407.02 L453.27,406.45 L453.20,405.85 L453.10,405.19 L452.95,404.44 L452.73,403.58 L452.37,402.52 L450.97,399.88 L451.23,399.71 L451.48,399.54 L451.74,399.38 L452.00,399.21 L452.25,399.05 L452.51,398.88 L452.77,398.72 L453.02,398.55 L453.28,398.39 L453.54,398.23 L453.80,398.06 L454.97,399.37 L456.02,400.51 L456.80,401.22 L457.47,401.75 L458.07,402.17 L458.62,402.53 L459.14,402.83 L459.63,403.08 L460.09,403.31 L460.54,403.50 L460.97,403.68 L461.38,403.83 L461.78,403.96 L462.18,404.08 L462.56,404.18 L462.93,404.27 L463.29,404.35 L463.65,404.41 L464.00,404.47 L464.34,404.51 L464.67,404.55 L465.00,404.58 L465.33,404.60 L465.65,404.61 L465.96,404.61 L466.27,404.61 L466.58,404.60 L466.88,404.59 L467.18,404.57 L467.47,404.54 L467.76,404.51 L468.05,404.47 L468.33,404.43 L468.61,404.38 L468.89,404.33 L469.16,404.27 L469.44,404.20 L469.70,404.14 L469.97,404.06 L470.23,403.98 L470.49,403.90 L470.75,403.81 L471.01,403.72 L471.26,403.62 L471.51,403.52 L471.76,403.41 L472.01,403.30 L472.25,403.19 L472.49,403.07 L472.73,402.94 L472.97,402.81 L473.21,402.68 L473.44,402.54 L473.67,402.39 L473.90,402.24 L474.13,402.09 L474.36,401.93 L474.58,401.76 L474.80,401.59 L475.02,401.41 L475.24,401.23 L475.46,401.04 L475.67,400.85 L475.89,400.65 L476.10,400.44 L476.30,400.23 L476.51,400.01 L476.71,399.78 L476.92,399.55 L477.12,399.31 L477.31,399.06 L477.51,398.80 L477.70,398.53 L477.89,398.25 L478.08,397.96 L478.26,397.66 L478.44,397.35 L478.62,397.02 L478.79,396.68 L478.96,396.32 L479.12,395.95 L479.28,395.56 L479.43,395.15 L479.58,394.71 L479.72,394.25 L479.85,393.75 L479.97,393.22 L480.07,392.64 L480.16,392.00 L480.23,391.28 L480.26,390.44 L480.23,389.42 L480.08,387.98 L479.76,386.01 L480.05,385.92 L480.34,385.83 L480.63,385.74 L480.92,385.64 L481.21,385.55 L481.51,385.47 L481.80,385.38 L482.09,385.29 L482.38,385.20 L482.68,385.12 L482.97,385.03 L484.04,387.65 L484.64,388.65 L485.15,389.40 L485.63,390.01 L486.07,390.52 L486.49,390.97 L486.90,391.36 L487.29,391.72 L487.67,392.04 L488.04,392.33 L488.40,392.60 L488.76,392.84 L489.10,393.06 L489.44,393.27 L489.78,393.46 L490.11,393.64 L490.44,393.80 L490.76,393.95 L491.08,394.09 L491.39,394.22 L491.71,394.34 L492.01,394.45 L492.32,394.55 L492.62,394.65 L492.92,394.73 L493.22,394.81 L493.51,394.88 L493.81,394.94 L494.10,395.00 L494.39,395.05 L494.67,395.09 L494.96,395.13 L495.24,395.16 L495.52,395.18 L495.80,395.20 L496.08,395.21 L496.36,395.22 L496.64,395.22 L496.91,395.22 L497.19,395.21 L497.46,395.20 L497.73,395.18 L498.00,395.16 L498.27,395.13 L498.54,395.10 L498.81,395.06 L499.07,395.01 L499.34,394.96 L499.60,394.91 L499.87,394.85 L500.13,394.79 L500.40,394.72 L500.66,394.64 L500.92,394.56 L501.18,394.48 L501.44,394.39 L501.70,394.29 L501.96,394.19 L502.22,394.08 L502.48,393.96 L502.74,393.84 L503.00,393.72 L503.26,393.58 L503.52,393.44 L503.78,393.30 L504.03,393.14 L504.29,392.98 L504.55,392.81 L504.81,392.64 L505.06,392.45 L505.32,392.26 L505.58,392.05 L505.84,391.84 L506.09,391.61 L506.35,391.38 L506.61,391.13 L506.87,390.87 L507.13,390.59 L507.38,390.30 L507.64,390.00 L507.90,389.67 L508.16,389.32 L508.42,388.95 L508.68,388.55 L508.94,388.12 L509.20,387.65 L509.45,387.14 L509.71,386.57 L509.97,385.93 L510.23,385.18 L510.48,384.27 L510.72,383.05 L510.92,380.49 L511.23,380.48 L511.53,380.47 L511.84,380.46 L512.14,380.45 L512.45,380.44 L512.75,380.43 L513.06,380.43 L513.36,380.42 L513.67,380.41 L513.97,380.41 L514.28,380.41 L514.60,382.71 L514.91,383.99 L515.21,384.92 L515.50,385.68 L515.79,386.32 L516.08,386.89 L516.36,387.40 L516.64,387.86 L516.92,388.28 L517.20,388.67 L517.48,389.04 L517.75,389.37 L518.03,389.69 L518.30,389.99 L518.57,390.27 L518.85,390.53 L519.12,390.78 L519.39,391.02 L519.66,391.24 L519.92,391.46 L520.19,391.66 L520.46,391.85 L520.73,392.04 L520.99,392.21 L521.26,392.38 L521.52,392.53 L521.79,392.68 L522.05,392.82 L522.32,392.96 L522.58,393.09 L522.85,393.21 L523.11,393.32 L523.38,393.43 L523.64,393.53 L523.91,393.63 L524.17,393.72 L524.44,393.80 L524.70,393.88 L524.97,393.96 L525.23,394.02 L525.50,394.09 L525.77,394.14 L526.03,394.20 L526.30,394.24 L526.57,394.29 L526.84,394.32 L527.10,394.35 L527.37,394.38 L527.64,394.40 L527.91,394.42 L528.19,394.43 L528.46,394.43 L528.73,394.43 L529.00,394.43 L529.28,394.42 L529.55,394.40 L529.83,394.38 L530.11,394.36 L530.39,394.33 L530.67,394.29 L530.95,394.24 L531.23,394.19 L531.52,394.14 L531.80,394.08 L532.09,394.01 L532.38,393.93 L532.67,393.85 L532.96,393.76 L533.26,393.66 L533.55,393.55 L533.85,393.44 L534.16,393.31 L534.46,393.18 L534.77,393.04 L535.08,392.88 L535.39,392.72 L535.71,392.54 L536.03,392.35 L536.36,392.15 L536.69,391.93 L537.02,391.69 L537.36,391.43 L537.71,391.15 L538.06,390.85 L538.43,390.51 L538.80,390.15 L539.18,389.74 L539.58,389.28 L539.99,388.75 L540.43,388.14 L540.90,387.40 L541.43,386.43 L542.16,384.67 L542.72,383.62 L543.02,383.69 L543.31,383.77 L543.61,383.84 L543.91,383.91 L544.20,383.99 L544.50,384.06 L544.79,384.14 L545.09,384.22 L545.38,384.29 L545.68,384.37 L545.55,386.02 L545.42,387.62 L545.44,388.69 L545.50,389.54 L545.60,390.27 L545.72,390.92 L545.85,391.51 L545.99,392.04 L546.15,392.54 L546.31,393.00 L546.47,393.43 L546.65,393.84 L546.82,394.22 L547.01,394.59 L547.19,394.94 L547.38,395.27 L547.57,395.59 L547.77,395.90 L547.96,396.19 L548.16,396.47 L548.37,396.74 L548.57,397.00 L548.78,397.25 L548.99,397.50 L549.20,397.73 L549.41,397.95 L549.63,398.17 L549.84,398.38 L550.06,398.59 L550.28,398.78 L550.50,398.97 L550.73,399.16 L550.95,399.34 L551.18,399.51 L551.41,399.67 L551.64,399.83 L551.87,399.99 L552.10,400.14 L552.34,400.28 L552.57,400.42 L552.81,400.56 L553.05,400.69 L553.29,400.81 L553.54,400.93 L553.78,401.04 L554.03,401.15 L554.28,401.26 L554.53,401.36 L554.79,401.45 L555.04,401.54 L555.30,401.63 L555.56,401.71 L555.82,401.78 L556.08,401.85 L556.35,401.92 L556.62,401.98 L556.89,402.04 L557.16,402.09 L557.44,402.13 L557.72,402.18 L558.00,402.21 L558.29,402.24 L558.57,402.27 L558.86,402.28 L559.16,402.30 L559.46,402.30 L559.76,402.31 L560.06,402.30 L560.37,402.29 L560.68,402.27 L561.00,402.24 L561.33,402.21 L561.65,402.16 L561.99,402.11 L562.32,402.05 L562.67,401.98 L563.02,401.90 L563.38,401.81 L563.74,401.70 L564.12,401.58 L564.50,401.45 L564.89,401.30 L565.30,401.13 L565.72,400.94 L566.15,400.73 L566.60,400.49 L567.07,400.21 L567.57,399.89 L568.10,399.52 L568.67,399.08 L569.29,398.54 L570.02,397.83 L570.95,396.76 L572.21,395.12 L572.47,395.27 L572.74,395.42 L573.01,395.57 L573.27,395.72 L573.54,395.87 L573.80,396.02 L574.06,396.17 L574.33,396.33 L574.59,396.48 L574.85,396.64 L575.12,396.79 L573.96,399.32 L573.63,400.45 L573.43,401.34 L573.31,402.11 L573.23,402.79 L573.19,403.40 L573.18,403.97 L573.19,404.50 L573.21,405.00 L573.25,405.47 L573.30,405.92 L573.37,406.34 L573.44,406.75 L573.52,407.14 L573.61,407.52 L573.71,407.88 L573.81,408.23 L573.92,408.57 L574.03,408.90 L574.15,409.22 L574.28,409.53 L574.41,409.83 L574.54,410.12 L574.68,410.40 L574.82,410.68 L574.97,410.95 L575.12,411.22 L575.28,411.47 L575.43,411.72 L575.59,411.97 L575.76,412.21 L575.93,412.44 L576.10,412.67 L576.27,412.89 L576.45,413.11 L576.63,413.33 L576.81,413.53 L577.00,413.74 L577.19,413.94 L577.38,414.13 L577.58,414.32 L577.77,414.51 L577.98,414.69 L578.18,414.87 L578.39,415.04 L578.60,415.21 L578.81,415.38 L579.03,415.54 L579.25,415.69 L579.48,415.85 L579.70,416.00 L579.93,416.14 L580.17,416.28 L580.40,416.42 L580.64,416.55 L580.89,416.68 L581.14,416.81 L581.39,416.93 L581.65,417.04 L581.91,417.15 L582.17,417.26 L582.44,417.37 L582.71,417.46 L582.99,417.56 L583.27,417.65 L583.56,417.73 L583.86,417.81 L584.16,417.88 L584.46,417.95 L584.77,418.01 L585.09,418.07 L585.41,418.12 L585.75,418.16 L586.08,418.19 L586.43,418.22 L586.79,418.24 L587.16,418.25 L587.53,418.25 L587.92,418.24 L588.32,418.22 L588.74,418.19 L589.17,418.14 L589.61,418.08 L590.08,418.00 L590.57,417.89 L591.09,417.76 L591.64,417.60 L592.23,417.41 L592.87,417.16 L593.59,416.84 L594.42,416.41 L595.46,415.77 L597.52,414.12 L597.73,414.34 L597.95,414.55 L598.16,414.77 L598.38,414.98 L598.59,415.20 L598.81,415.42 L599.02,415.64 L599.23,415.86 L599.45,416.08 L599.66,416.30 L599.87,416.52 L598.46,418.27 L597.71,419.39 L597.23,420.25 L596.87,420.99 L596.59,421.64 L596.37,422.24 L596.19,422.80 L596.05,423.32 L595.93,423.81 L595.83,424.29 L595.76,424.74 L595.70,425.17 L595.65,425.59 L595.62,425.99 L595.60,426.38 L595.59,426.76 L595.60,427.13 L595.61,427.49 L595.63,427.84 L595.65,428.18 L595.69,428.51 L595.73,428.84 L595.78,429.16 L595.83,429.48 L595.89,429.78 L595.96,430.08 L596.03,430.38 L596.11,430.67 L596.19,430.96 L596.27,431.24 L596.37,431.52 L596.46,431.79 L596.56,432.05 L596.67,432.32 L596.78,432.58 L596.90,432.83 L597.01,433.08 L597.14,433.33 L597.26,433.58 L597.40,433.82 L597.53,434.05 L597.67,434.29 L597.82,434.52 L597.96,434.75 L598.11,434.97 L598.27,435.19 L598.43,435.41 L598.60,435.62 L598.76,435.84 L598.94,436.05 L599.11,436.25 L599.29,436.45 L599.48,436.65 L599.67,436.85 L599.86,437.05 L600.06,437.24 L600.27,437.42 L600.48,437.61 L600.69,437.79 L600.91,437.97 L601.13,438.15 L601.36,438.32 L601.60,438.49 L601.84,438.66 L602.08,438.82 L602.34,438.98 L602.60,439.13 L602.86,439.29 L603.13,439.44 L603.41,439.58 L603.70,439.72 L604.00,439.86 L604.30,439.99 L604.62,440.12 L604.94,440.24 L605.28,440.36 L605.62,440.47 L605.98,440.57 L606.35,440.67 L606.74,440.76 L607.14,440.84 L607.56,440.92 L608.00,440.98 L608.46,441.03 L608.95,441.07 L609.47,441.09 L610.03,441.10 L610.63,441.07 L611.30,441.02 L612.04,440.93 L612.90,440.77 L613.96,440.50 L615.63,439.89 L616.93,439.49 L617.08,439.76 L617.23,440.03 L617.38,440.29 L617.53,440.56 L617.68,440.83 L617.82,441.10 L617.97,441.36 L618.12,441.63 L618.26,441.90 L618.40,442.17 L617.22,443.14 L615.90,444.18 L615.12,444.92 L614.54,445.56 L614.06,446.13 L613.67,446.66 L613.33,447.15 L613.03,447.63 L612.78,448.08 L612.55,448.51 L612.34,448.93 L612.16,449.33 L612.00,449.72 L611.86,450.11 L611.73,450.48 L611.61,450.85 L611.51,451.21 L611.42,451.56 L611.34,451.90 L611.27,452.24 L611.21,452.57 L611.16,452.90 L611.11,453.22 L611.08,453.54 L611.05,453.86 L611.03,454.17 L611.02,454.47 L611.01,454.77 L611.01,455.07 L611.02,455.37 L611.03,455.66 L611.05,455.95 L611.07,456.24 L611.10,456.52 L611.13,456.80 L611.17,457.08 L611.22,457.35 L611.27,457.62 L611.32,457.89 L611.38,458.16 L611.45,458.43 L611.52,458.69 L611.59,458.95 L611.67,459.21 L611.76,459.47 L611.85,459.73 L611.94,459.98 L612.04,460.23 L612.14,460.48 L612.25,460.73 L612.36,460.98 L612.48,461.22 L612.60,461.47 L612.73,461.71 L612.86,461.95 L613.00,462.18 L613.15,462.42 L613.30,462.66 L613.45,462.89 L613.61,463.12 L613.78,463.35 L613.95,463.58 L614.13,463.81 L614.31,464.03 L614.50,464.26 L614.70,464.48 L614.90,464.70 L615.12,464.92 L615.34,465.14 L615.56,465.35 L615.80,465.57 L616.05,465.78 L616.30,465.99 L616.57,466.20 L616.84,466.40 L617.13,466.61 L617.42,466.81 L617.74,467.01 L618.06,467.20 L618.40,467.40 L618.76,467.59 L619.14,467.77 L619.54,467.95 L619.96,468.13 L620.41,468.30 L620.89,468.46 L621.42,468.62 L621.98,468.77 L622.61,468.90 L623.32,469.02 L624.14,469.11 L625.14,469.16 L626.52,469.11 L628.66,468.89 L628.73,469.19 L628.81,469.48 L628.88,469.78 L628.95,470.08 L629.02,470.37 L629.09,470.67 L629.16,470.97 L629.22,471.27 L629.29,471.56 L629.36,471.86 L629.42,472.16 L626.85,473.03 L625.78,473.56 L624.98,474.03 L624.33,474.46 L623.78,474.87 L623.30,475.26 L622.88,475.64 L622.49,476.01 L622.14,476.37 L621.83,476.72 L621.53,477.06 L621.27,477.40 L621.02,477.73 L620.79,478.06 L620.57,478.38 L620.37,478.70 L620.18,479.01 L620.01,479.32 L619.85,479.63 L619.70,479.94 L619.55,480.24 L619.42,480.54 L619.30,480.84 L619.19,481.13 L619.08,481.43 L618.98,481.72 L618.89,482.01 L618.81,482.30 L618.73,482.58 L618.66,482.87 L618.60,483.15 L618.54,483.43 L618.49,483.71 L618.45,483.99 L618.41,484.27 L618.38,484.55 L618.35,484.83 L618.33,485.10 L618.31,485.38 L618.30,485.65 L618.29,485.92 L618.29,486.20 L618.30,486.47 L618.31,486.74 L618.32,487.01 L618.34,487.28 L618.37,487.55 L618.40,487.82 L618.43,488.09 L618.47,488.35 L618.52,488.62 L618.57,488.89 L618.63,489.16 L618.69,489.42 L618.76,489.69 L618.83,489.96 L618.91,490.22 L618.99,490.49 L619.08,490.76 L619.18,491.02 L619.28,491.29 L619.39,491.56 L619.50,491.82 L619.62,492.09 L619.75,492.36 L619.88,492.63 L620.03,492.89 L620.18,493.16 L620.34,493.43 L620.50,493.70 L620.68,493.97 L620.86,494.24 L621.06,494.51 L621.26,494.78 L621.48,495.06 L621.71,495.33 L621.95,495.61 L622.21,495.88 L622.48,496.16 L622.76,496.44 L623.07,496.72 L623.40,497.00Z" fill="none" stroke="#111" stroke-width="2.8" stroke-linejoin="round"/>
<circle cx="515.50" cy="497.00" r="88.10" stroke="#111" stroke-width="2.8" fill="none" />
<circle cx="515.50" cy="497.00" r="67.80" stroke="#111" stroke-width="2.8" fill="none" />
<circle cx="515.50" cy="497.00" r="77.40" stroke="#222" stroke-width="1.0" fill="none" stroke-dasharray="16 4"/>
<circle cx="581.42" cy="537.56" r="5.00" stroke="#222" stroke-width="1.1" fill="#fff" />
<line x1="580.42" y1="539.36" x2="582.42" y2="535.76" stroke="#222" stroke-width="0.9" />
<circle cx="539.93" cy="570.44" r="5.00" stroke="#222" stroke-width="1.1" fill="#fff" />
<line x1="538.93" y1="572.24" x2="540.93" y2="568.64" stroke="#222" stroke-width="0.9" />
<circle cx="487.01" cy="568.96" r="5.00" stroke="#222" stroke-width="1.1" fill="#fff" />
<line x1="486.01" y1="570.76" x2="488.01" y2="567.16" stroke="#222" stroke-width="0.9" />
<circle cx="447.42" cy="533.81" r="5.00" stroke="#222" stroke-width="1.1" fill="#fff" />
<line x1="446.42" y1="535.61" x2="448.42" y2="532.01" stroke="#222" stroke-width="0.9" />
<circle cx="439.68" cy="481.44" r="5.00" stroke="#222" stroke-width="1.1" fill="#fff" />
<line x1="438.68" y1="483.24" x2="440.68" y2="479.64" stroke="#222" stroke-width="0.9" />
<circle cx="467.42" cy="436.34" r="5.00" stroke="#222" stroke-width="1.1" fill="#fff" />
<line x1="466.42" y1="438.14" x2="468.42" y2="434.54" stroke="#222" stroke-width="0.9" />
<circle cx="517.66" cy="419.63" r="5.00" stroke="#222" stroke-width="1.1" fill="#fff" />
<line x1="516.66" y1="421.43" x2="518.66" y2="417.83" stroke="#222" stroke-width="0.9" />
<circle cx="566.89" cy="439.12" r="5.00" stroke="#222" stroke-width="1.1" fill="#fff" />
<line x1="565.89" y1="440.92" x2="567.89" y2="437.32" stroke="#222" stroke-width="0.9" />
<circle cx="592.07" cy="485.69" r="5.00" stroke="#222" stroke-width="1.1" fill="#fff" />
<line x1="591.07" y1="487.49" x2="593.07" y2="483.89" stroke="#222" stroke-width="0.9" />
<line x1="437.90" y1="497.00" x2="592.80" y2="497.00" stroke="#222" stroke-width="1" />
<line x1="515.50" y1="429.50" x2="515.50" y2="564.50" stroke="#222" stroke-width="1" />
<line x1="507.00" y1="419.60" x2="703.70" y2="419.60" stroke="#222" stroke-width="1" />
<line x1="516.00" y1="428.40" x2="671.00" y2="428.40" stroke="#8a8a8a" stroke-width="1" />
<line x1="516.00" y1="575.00" x2="703.70" y2="575.00" stroke="#222" stroke-width="1" />
<line x1="516.00" y1="565.40" x2="671.00" y2="565.40" stroke="#8a8a8a" stroke-width="1" />
<line x1="668.60" y1="430.00" x2="668.60" y2="564.00" stroke="#777" stroke-width="1" />
<path d="M668.60,429.20 L670.90,436.20 L666.30,436.20 Z" fill="#111"/>
<path d="M668.60,564.80 L666.30,557.80 L670.90,557.80 Z" fill="#111"/>
<line x1="701.50" y1="421.00" x2="701.50" y2="574.00" stroke="#777" stroke-width="1" />
<path d="M701.50,420.20 L703.80,427.20 L699.20,427.20 Z" fill="#111"/>
<path d="M701.50,574.40 L699.20,567.40 L703.80,567.40 Z" fill="#111"/>
<line x1="665.30" y1="467.40" x2="665.30" y2="520.50" stroke="#8a8a8a" stroke-width="1" />
<line x1="698.70" y1="460.10" x2="698.70" y2="527.40" stroke="#8a8a8a" stroke-width="1" />
<rect x="527" y="656" width="5" height="2" fill="#ddd"/><rect x="534" y="656" width="4" height="2" fill="#bbb"/><rect x="553" y="655.5" width="1.6" height="2.5" fill="#888"/>
<defs><filter id="blr" x="-50%" y="-50%" width="200%" height="200%"><feGaussianBlur stdDeviation="1.3"/></filter></defs>
<path d="M46.3,323.6 L28.9,341 L46.3,358.4" fill="none" stroke="#555" stroke-width="9.6" stroke-linecap="round" stroke-linejoin="miter" filter="url(#blr)" opacity="0.8"/>
<path d="M46.3,323.6 L28.9,341 L46.3,358.4" fill="none" stroke="#fff" stroke-width="6.3" stroke-linecap="round" stroke-linejoin="miter"/>
<text x="206.80" y="101.40" font-size="10" font-weight="bold" text-anchor="middle" fill="#111" >Ø B</text>
<text x="206.80" y="129.20" font-size="10" font-weight="bold" text-anchor="middle" fill="#111" >Ø C</text>
<text x="18.30" y="356.20" font-size="9.5" font-weight="bold" text-anchor="middle" fill="#111" transform="rotate(-90 18.3 356.2)" dominant-baseline="auto">A</text>
<text x="207.00" y="547.90" font-size="10" font-weight="bold" text-anchor="middle" fill="#111" >Ø F</text>
<text x="207.20" y="579.00" font-size="10" font-weight="bold" text-anchor="middle" fill="#111" >Ø D</text>
<text x="207.00" y="607.30" font-size="10" font-weight="bold" text-anchor="middle" fill="#111" >Ø E</text>
<text x="327.60" y="633.80" font-size="10" font-weight="bold" text-anchor="middle" fill="#111" >rys. 1</text>
<text x="525.80" y="77.90" font-size="10" font-weight="bold" text-anchor="start" fill="#111" textLength="29">Ø B =</text>
<text x="630.60" y="77.90" font-size="12" font-weight="bold" text-anchor="start" fill="#111" textLength="23" lengthAdjust="spacingAndGlyphs">mm</text>
<text x="536.80" y="110.20" font-size="10" font-weight="bold" text-anchor="start" fill="#111" textLength="28">Ø C =</text>
<text x="618.90" y="110.20" font-size="12" font-weight="bold" text-anchor="start" fill="#111" textLength="23" lengthAdjust="spacingAndGlyphs">mm</text>
<text x="688.00" y="360.20" font-size="10" font-weight="bold" text-anchor="middle" fill="#111" >rys. 2</text>
<text x="665.60" y="552.20" font-size="10.5" font-weight="bold" text-anchor="start" fill="#111" transform="rotate(-90 665.60 552.20)" textLength="29.6">Ø D =</text>
<text x="665.80" y="464.20" font-size="12" font-weight="bold" text-anchor="start" fill="#111" transform="rotate(-90 665.80 464.20)" textLength="23" lengthAdjust="spacingAndGlyphs">mm</text>
<text x="699.10" y="559.70" font-size="10.5" font-weight="bold" text-anchor="start" fill="#111" transform="rotate(-90 699.10 559.70)" textLength="31">Ø E =</text>
<text x="699.10" y="456.30" font-size="12" font-weight="bold" text-anchor="start" fill="#111" transform="rotate(-90 699.10 456.30)" textLength="23" lengthAdjust="spacingAndGlyphs">mm</text>
<text x="688.00" y="613.00" font-size="10" font-weight="bold" text-anchor="middle" fill="#111" >rys. 3</text>
</svg></body></html>
